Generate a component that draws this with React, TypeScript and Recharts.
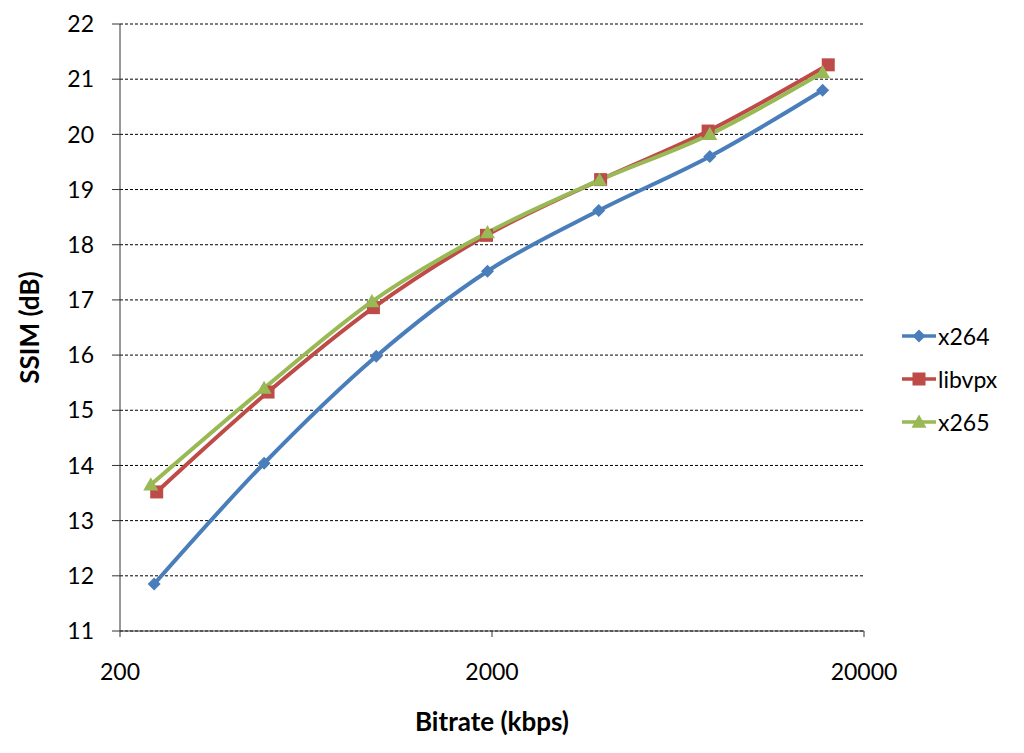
import React from 'react';
import {
  LineChart,
  Line,
  XAxis,
  YAxis,
  CartesianGrid,
} from 'recharts';

// bitrates (kbps) and SSIM (dB)
const x264Rate = [247, 488, 977, 1945, 3872, 7700, 15480];
const x264Ssim = [11.85, 14.04, 15.98, 17.52, 18.62, 19.6, 20.8];
const libvpxRate = [251, 500, 960, 1933, 3918, 7620, 16030];
const libvpxSsim = [13.52, 15.33, 16.86, 18.17, 19.18, 20.06, 21.26];
const x265Rate = [242, 488, 951, 1945, 3890, 7700, 15480];
const x265Ssim = [13.65, 15.4, 16.97, 18.22, 19.17, 20.0, 21.12];

const xTicks = [200, 2000, 20000];
const yTicks = [11, 12, 13, 14, 15, 16, 17, 18, 19, 20, 21, 22];

const toPoints = (rates: number[], vals: number[]) =>
  rates.map((r, i) => ({ x: r, y: vals[i] }));

const series = [
  { name: 'x264', color: '#4A7EBB', shape: 'diamond', data: toPoints(x264Rate, x264Ssim) },
  { name: 'libvpx', color: '#BE4B48', shape: 'square', data: toPoints(libvpxRate, libvpxSsim) },
  { name: 'x265', color: '#98B954', shape: 'triangle', data: toPoints(x265Rate, x265Ssim) },
];

const FONT = 'Lato, "Open Sans", sans-serif';

const Marker = ({ shape, cx, cy, color }: { shape: string; cx: number; cy: number; color: string }) => {
  if (shape === 'diamond') {
    const r = 6.5;
    return <path d={`M${cx},${cy - r} L${cx + r},${cy} L${cx},${cy + r} L${cx - r},${cy} Z`} fill={color} />;
  }
  if (shape === 'square') {
    const r = 6.5;
    return <rect x={cx - r} y={cy - r} width={r * 2} height={r * 2} fill={color} />;
  }
  const r = 7.5;
  return <path d={`M${cx},${cy - r} L${cx + r},${cy + r * 0.75} L${cx - r},${cy + r * 0.75} Z`} fill={color} />;
};

// legend sits to the right of the plot, drawn outside the chart box so it doesn't eat plot space
const ChartLegend = () => (
  <div style={{ position: 'absolute', left: 902, top: 314, fontFamily: FONT, fontSize: 23, color: '#000' }}>
    {series.map((s) => (
      <div key={s.name} style={{ display: 'flex', alignItems: 'center', height: 43 }}>
        <svg width={34} height={20} style={{ marginRight: 2 }}>
          <line x1={0} y1={10} x2={34} y2={10} stroke={s.color} strokeWidth={3.5} />
          <Marker shape={s.shape} cx={17} cy={10} color={s.color} />
        </svg>
        <span>{s.name}</span>
      </div>
    ))}
  </div>
);

export default function App() {
  return (
    <div style={{ position: 'absolute', left: 0, top: 0, width: 1024, height: 753, background: '#fff' }}>
      <LineChart width={1024} height={753} margin={{ top: 24, right: 160, left: 60, bottom: 10 }}>
        <CartesianGrid horizontal vertical={false} stroke="#000" strokeDasharray="3 2" strokeWidth={1} />
        <XAxis
          dataKey="x"
          type="number"
          scale="log"
          domain={[200, 20000]}
          ticks={xTicks}
          allowDataOverflow
          height={112}
          stroke="#333"
          tickSize={6}
          tickMargin={27}
          tick={{ fill: '#000', fontSize: 23, fontFamily: FONT }}
          label={{
            value: 'Bitrate (kbps)',
            position: 'insideBottom',
            offset: 12,
            style: { fill: '#000', fontSize: 26, fontWeight: 700, fontFamily: FONT },
          }}
        />
        <YAxis
          type="number"
          domain={[11, 22]}
          ticks={yTicks}
          width={60}
          stroke="#333"
          tickSize={8}
          tickMargin={18}
          tick={{ fill: '#000', fontSize: 23, fontFamily: FONT }}
          label={{
            value: 'SSIM (dB)',
            angle: -90,
            position: 'left',
            offset: 30,
            style: { fill: '#000', fontSize: 26, fontWeight: 700, fontFamily: FONT, textAnchor: 'middle' },
          }}
        />
        {series.map((s) => (
          <Line
            key={s.name}
            data={s.data}
            dataKey="y"
            name={s.name}
            type="monotone"
            stroke={s.color}
            strokeWidth={4}
            isAnimationActive={false}
            activeDot={false}
            dot={(p: any) => (
              <Marker key={`${s.name}-${p.index}`} shape={s.shape} cx={p.cx} cy={p.cy} color={s.color} />
            )}
          />
        ))}
      </LineChart>
      <ChartLegend />
    </div>
  );
}
